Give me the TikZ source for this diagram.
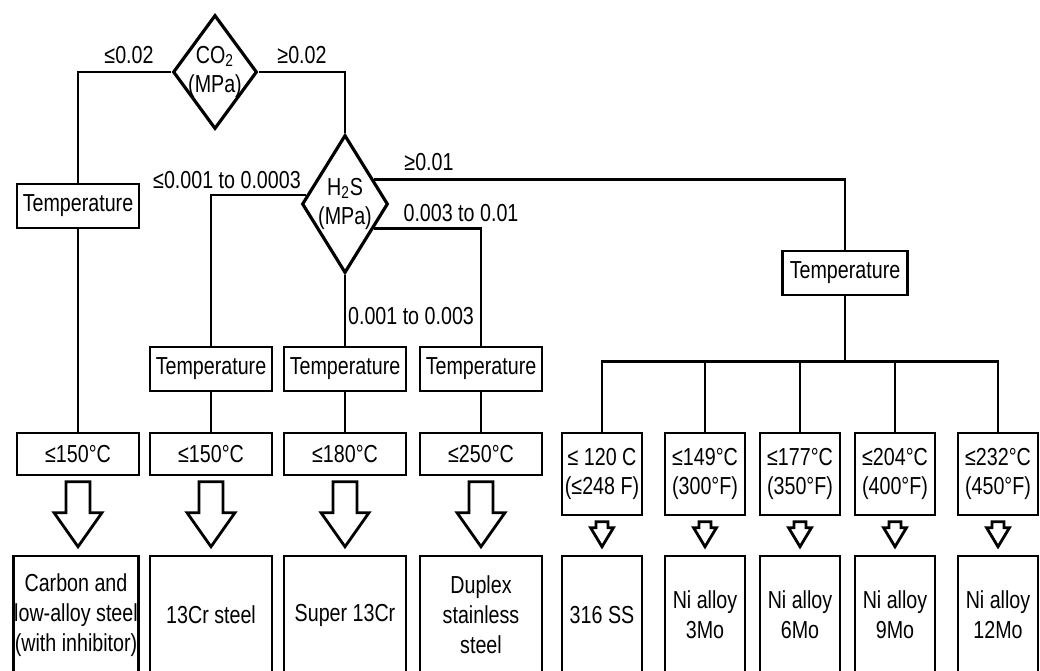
\documentclass[tikz,border=0pt]{standalone}
\usepackage{fontspec}
\setmainfont{Liberation Sans}[FakeStretch=0.8]
\usetikzlibrary{shapes.geometric,calc}

\tikzset{
  every node/.style={font=\fontsize{14}{17}\selectfont},
  line/.style={line width=1.6pt},
  box/.style={draw, line width=1.6pt, inner sep=0pt, align=center},
  tempbox/.style={box, minimum width=2.44cm, minimum height=0.88cm},
  valbox/.style={box, minimum width=2.44cm, minimum height=0.84cm},
  dualbox/.style={box, minimum width=1.6cm, minimum height=1.64cm},
  matbox/.style={box, minimum width=2.44cm, minimum height=2.36cm},
  nibox/.style={box, minimum width=1.6cm, minimum height=2.36cm},
  decision/.style={draw, diamond, line width=1.8pt, inner sep=-0.25cm, align=center},
  hollow/.style={draw, line width=1.6pt, fill=white},
}

% hollow block arrow: #1 upper node, #2 lower node, #3 half shaft, #4 half head, #5 head start above #2
\newcommand{\hollowarrow}[5]{%
  \draw[hollow] let \p1=(#1.south), \p2=(#2.north) in
    (\x1-#3,\y1-3pt) -- (\x1-#3,\y2+#5) -- (\x1-#4,\y2+#5) -- (\x1,\y2+4.5pt)
    -- (\x1+#4,\y2+#5) -- (\x1+#3,\y2+#5) -- (\x1+#3,\y1-3pt) -- cycle;}

\begin{document}
\begin{tikzpicture}[x=0.02cm, y=-0.02cm]
    \useasboundingbox (0,0) rectangle (1040,670);
    \clip (0,0) rectangle (1040,670);

    % Gas decisions
    \node[decision, minimum width=1.68cm, minimum height=2.28cm] (co2) at (215,72) {CO\textsubscript{2}\\(MPa)};
    \node[decision, minimum width=1.72cm, minimum height=2.76cm] (h2s) at (345,204) {H\textsubscript{2}S\\(MPa)};

    % Partial pressure ranges
    \node (lowco2) at (129,55) {≤0.02};
    \node (highco2) at (302,55) {≥0.02};
    \node (lowh2s) at (227,180) {≤0.001 to 0.0003};
    \node (highh2s) at (429,162) {≥0.01};
    \node (midh2s) at (461,213) {0.003 to 0.01};
    \node (lowmid) at (411,316) {0.001 to 0.003};

    % Temperature checks
    \node[tempbox] (tL) at (78,206) {Temperature};
    \node[tempbox] (t1) at (211,369) {Temperature};
    \node[tempbox] (t2) at (345,369) {Temperature};
    \node[tempbox] (t3) at (481,369) {Temperature};
    \node[tempbox, minimum width=2.5cm] (tR) at (845,273) {Temperature};

    % Temperature limits
    \node[valbox] (v0) at (78,454) {≤150°C};
    \node[valbox] (v1) at (211,454) {≤150°C};
    \node[valbox] (v2) at (345,454) {≤180°C};
    \node[valbox] (v3) at (481,454) {≤250°C};
    \node[dualbox] (v4) at (602,474) {≤ 120 C\\(≤248 F)};
    \node[dualbox] (v5) at (705,474) {≤149°C\\(300°F)};
    \node[dualbox] (v6) at (800,474) {≤177°C\\(350°F)};
    \node[dualbox] (v7) at (895,474) {≤204°C\\(400°F)};
    \node[dualbox] (v8) at (998,474) {≤232°C\\(450°F)};

    % Materials
    \node[matbox, minimum width=2.5cm] (m0) at (76,615) {Carbon and\\low-alloy steel\\(with inhibitor)};
    \node[matbox] (m1) at (211,615) {13Cr steel};
    \node[matbox] (m2) at (345,615) {Super 13Cr};
    \node[matbox] (m3) at (481,615) {Duplex\\stainless\\steel};
    \node[nibox] (m4) at (602,615) {316 SS};
    \node[nibox] (m5) at (705,615) {Ni alloy\\3Mo};
    \node[nibox] (m6) at (800,615) {Ni alloy\\6Mo};
    \node[nibox] (m7) at (895,615) {Ni alloy\\9Mo};
    \node[nibox] (m8) at (998,615) {Ni alloy\\12Mo};

    % Tree lines
    \draw[line] (co2.west) -| (tL.north);
    \draw[line] (co2.east) -| (h2s.north);
    \draw[line] (h2s.167) -| (t1.north);
    \draw[line] (h2s.south) -- (t2.north);
    \draw[line] (h2s.-40) -| (t3.north);
    \draw[line] (h2s.40) -| (tR.north);
    \draw[line] (tL.south) -- (v0.north);
    \foreach \i in {1,2,3} \draw[line] (t\i.south) -- (v\i.north);
    \path (tR.south) ++(0,65) coordinate (bus);
    \draw[line] (tR.south) -- (bus);
    \foreach \i in {4,...,8} \draw[line] (bus) -| (v\i.north);

    % Selection arrows
    \foreach \i in {0,...,3} \hollowarrow{v\i}{m\i}{6.8pt}{13.6pt}{23.8pt};
    \foreach \i in {4,...,8} \hollowarrow{v\i}{m\i}{3.4pt}{6.5pt}{15.3pt};

\end{tikzpicture}
\end{document}
